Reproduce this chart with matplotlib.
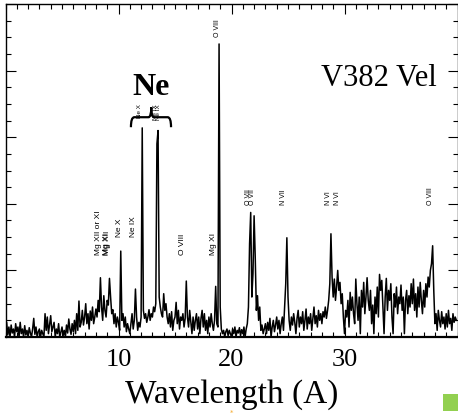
import numpy as np
import matplotlib
matplotlib.use('Agg')
import matplotlib.pyplot as plt
from matplotlib.path import Path
from matplotlib.patches import PathPatch, Rectangle
from matplotlib.ticker import MultipleLocator

# Spectrum of V382 Vel, counts per 0.1 A bin
wl_start = 0.0
wl_step = 0.1
flux = [
    0.10, 0.22, 0.03, 0.15, 0.00, 0.18, 0.06, 0.12, 0.00, 0.20,   # 0
    0.08, 0.15, 0.00, 0.22, 0.05, 0.12, 0.00, 0.17, 0.03, 0.10,   # 1
    0.00, 0.14, 0.06, 0.00, 0.12, 0.28, 0.04, 0.15, 0.00, 0.08,   # 2
    0.12, 0.00, 0.10, 0.05, 0.00, 0.35, 0.10, 0.30, 0.05, 0.18,   # 3
    0.32, 0.08, 0.15, 0.22, 0.00, 0.12, 0.05, 0.20, 0.00, 0.07,   # 4
    0.15, 0.02, 0.10, 0.00, 0.18, 0.06, 0.27, 0.12, 0.04, 0.20,   # 5
    0.08, 0.25, 0.05, 0.35, 0.10, 0.54, 0.15, 0.22, 0.40, 0.18,   # 6
    0.30, 0.50, 0.20, 0.35, 0.12, 0.39, 0.25, 0.45, 0.20, 0.30,   # 7
    0.42, 0.30, 0.55, 0.38, 0.89, 0.45, 0.25, 0.62, 0.40, 0.30,   # 8
    0.55, 0.48, 0.88, 0.60, 0.35, 0.41, 0.20, 0.35, 0.15, 0.30,   # 9
    0.22, 0.10, 1.29, 0.25, 0.35, 0.15, 0.30, 0.08, 0.20, 0.12,   # 10
    0.05, 0.20, 0.35, 0.12, 0.25, 0.72, 0.30, 0.10, 0.22, 0.15,   # 11
    0.30, 3.14, 0.40, 0.28, 0.35, 0.22, 0.30, 0.41, 0.25, 0.35,   # 12
    0.30, 0.45, 0.38, 0.50, 2.90, 3.10, 0.60, 0.45, 0.35, 0.30,   # 13
    0.65, 0.40, 0.50, 0.30, 0.20, 0.35, 0.15, 0.38, 0.10, 0.25,   # 14
    0.30, 0.52, 0.20, 0.40, 0.12, 0.30, 0.25, 0.35, 0.15, 0.28,   # 15
    0.84, 0.30, 0.15, 0.40, 0.22, 0.05, 0.30, 0.10, 0.25, 0.35,   # 16
    0.12, 0.30, 0.05, 0.28, 0.40, 0.15, 0.35, 0.10, 0.25, 0.05,   # 17
    0.30, 0.15, 0.35, 0.20, 0.10, 0.25, 0.76, 0.20, 0.15, 4.40,   # 18
    0.45, 0.12, 0.05, 0.10, 0.00, 0.08, 0.12, 0.02, 0.10, 0.05,   # 19
    0.00, 0.12, 0.05, 0.15, 0.00, 0.10, 0.06, 0.14, 0.02, 0.11,   # 20
    0.05, 0.15, 0.00, 0.12, 0.20, 0.45, 1.40, 1.87, 0.60, 0.95,   # 21
    1.82, 1.20, 0.40, 0.62, 0.25, 0.45, 0.10, 0.18, 0.05, 0.12,   # 22
    0.20, 0.05, 0.22, 0.10, 0.28, 0.00, 0.15, 0.25, 0.08, 0.18,   # 23
    0.30, 0.12, 0.25, 0.05, 0.20, 0.30, 0.10, 0.45, 0.80, 1.49,   # 24
    0.60, 0.25, 0.10, 0.30, 0.18, 0.35, 0.22, 0.05, 0.28, 0.40,   # 25
    0.15, 0.30, 0.20, 0.38, 0.10, 0.25, 0.42, 0.12, 0.30, 0.20,   # 26
    0.35, 0.10, 0.28, 0.45, 0.20, 0.32, 0.15, 0.40, 0.25, 0.35,   # 27
    0.20, 0.38, 0.30, 0.45, 0.28, 0.40, 0.55, 0.80, 1.55, 0.90,   # 28
    0.60, 0.87, 0.55, 0.75, 1.00, 0.70, 0.82, 0.50, 0.65, 0.30,   # 29
    0.05, 0.40, 0.30, 0.55, 0.15, 0.67, 0.40, 0.60, 0.35, 0.20,   # 30
    0.87, 0.50, 0.25, 0.60, 0.05, 0.70, 0.45, 0.82, 0.35, 0.60,   # 31
    0.89, 0.55, 0.40, 0.70, 0.20, 0.48, 0.05, 0.60, 0.35, 0.75,   # 32
    0.30, 0.94, 0.70, 0.85, 0.45, 0.05, 0.60, 0.88, 0.40, 0.70,   # 33
    0.55, 0.80, 0.30, 0.05, 0.65, 0.45, 0.75, 0.35, 0.60, 0.50,   # 34
    0.78, 0.40, 0.60, 0.05, 0.55, 0.70, 0.35, 0.62, 0.45, 0.80,   # 35
    0.50, 0.87, 0.40, 0.65, 0.30, 0.75, 0.45, 0.82, 0.55, 0.35,   # 36
    0.70, 0.45, 0.80, 0.60, 0.90, 0.75, 1.00, 1.10, 1.37, 0.70,   # 37
    0.20, 0.35, 0.10, 0.40, 0.25, 0.15, 0.38, 0.20, 0.30, 0.12,   # 38
    0.35, 0.15, 0.40, 0.20, 0.28, 0.10, 0.35, 0.22, 0.30, 0.25,   # 39
]
wavelength = wl_start + wl_step * np.arange(len(flux))

# Line identifications: text, wavelength of label, bottom of label, size
line_labels = ['Mg XII or XI', 'Mg XI', 'Mg XII', 'Ne X', 'Ne IX', 'O VIII',
               'Mg XI', 'O VIII', 'Ne X', 'Ne IX', 'Ne IX',
               'O VII', 'O VII', 'N VII', 'N VI', 'N VI', 'O VIII']
label_wl = [8.25, 8.95, 9.05, 10.05, 11.3, 15.7,
            18.45, 18.8, 11.9, 13.3, 13.5,
            21.5, 21.9, 24.6, 28.6, 29.35, 37.6]
label_y = [1.25, 1.25, 1.25, 1.52, 1.52, 1.25,
           1.25, 4.52, 3.30, 3.28, 3.28,
           2.0, 2.0, 2.0, 2.0, 2.0, 2.0]
label_size = [6, 6, 6, 6, 6, 6,
              6, 5, 4.5, 4.5, 4.5,
              5, 5, 5, 5, 5, 5]

serif = ['Liberation Serif', 'DejaVu Serif']
sans = ['Liberation Sans', 'DejaVu Sans']

fig = plt.figure(figsize=(4.58, 4.14), dpi=100)
ax = fig.add_axes([5.5 / 458, 76 / 414, 452 / 458, 333 / 414])

ax.plot(wavelength, flux, color='black', lw=1.1)

ax.set_xlim(0, 40)
ax.set_ylim(0, 5)
ax.xaxis.set_major_locator(MultipleLocator(10))
ax.xaxis.set_minor_locator(MultipleLocator(1))
ax.yaxis.set_major_locator(MultipleLocator(1))
ax.yaxis.set_minor_locator(MultipleLocator(0.25))
ax.tick_params(which='both', direction='in', top=True, right=True,
               labelleft=False, width=0.8)
ax.tick_params(which='major', length=7)
ax.tick_params(which='minor', length=3.5)
ax.tick_params(axis='x', pad=8)
ax.set_xticks([10, 20, 30])
ax.set_xticklabels(['10', '20', '30'], fontfamily=serif, fontsize=19)
ax.set_xlabel('Wavelength (A)', fontfamily=serif, fontsize=24, labelpad=6)
for s in ax.spines.values():
    s.set_linewidth(1.0)
ax.spines['bottom'].set_linewidth(1.6)

for t, w, y, fs in zip(line_labels, label_wl, label_y, label_size):
    ax.text(w, y, t, rotation=90, ha='center', va='bottom',
            fontsize=fs, fontfamily=sans)

# curly brace grouping the two strong neon lines
bx0, bx1, bxm = 11.1, 14.65, 12.9
by0, by1, by2 = 3.15, 3.30, 3.45
verts = [(bx0, by0), (bx0, by1), (bx0 + 0.3, by1),
         (bxm - 0.25, by1),
         (bxm, by1), (bxm, by2),
         (bxm, by1), (bxm + 0.25, by1),
         (bx1 - 0.3, by1),
         (bx1, by1), (bx1, by0)]
codes = [Path.MOVETO, Path.CURVE3, Path.CURVE3,
         Path.LINETO,
         Path.CURVE3, Path.CURVE3,
         Path.CURVE3, Path.CURVE3,
         Path.LINETO,
         Path.CURVE3, Path.CURVE3]
ax.add_patch(PathPatch(Path(verts, codes), fill=False, lw=1.6, color='black'))
ax.text(12.9, 3.55, 'Ne', fontfamily=serif, fontweight='bold', fontsize=23,
        ha='center', va='bottom')

ax.text(0.955, 0.735, 'V382 Vel', transform=ax.transAxes, fontfamily=serif,
        fontsize=22, ha='right', va='bottom')

# small decorations outside the axes
fig.add_artist(Rectangle((443 / 458, 2 / 414), 15 / 458, 17 / 414,
                         transform=fig.transFigure, color='#92D050', lw=0))
fig.text(232 / 458, -2 / 414, '*', color='#F5A623', fontsize=5,
         ha='center', va='bottom')

fig.savefig('out.png', dpi=100)
